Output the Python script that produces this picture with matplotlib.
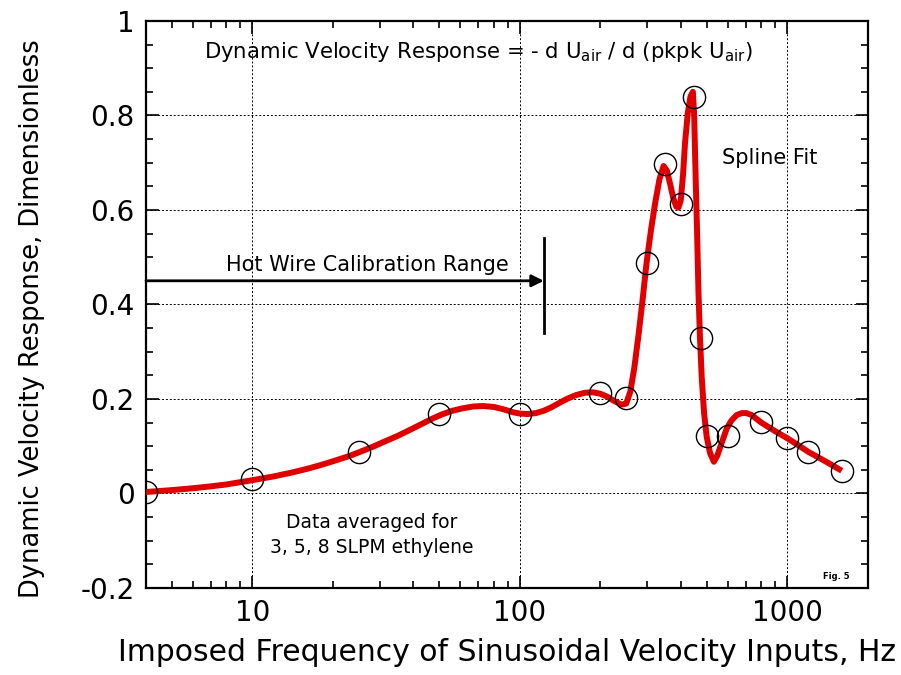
import matplotlib
matplotlib.use('agg')
import matplotlib.pyplot as plt
from matplotlib.ticker import LogLocator, MultipleLocator, NullFormatter

# measured points (Hz, response)
freq = [4, 10, 25, 50, 100, 200, 250, 300, 350, 400, 450, 475, 500, 600, 800, 1000, 1200, 1600]
resp = [0.003, 0.031, 0.087, 0.168, 0.168, 0.213, 0.201, 0.488, 0.697, 0.612, 0.838, 0.329,
        0.122, 0.121, 0.151, 0.117, 0.088, 0.048]

# spline fit curve
fit_freq = [4, 5, 6, 7, 8, 10, 12, 14, 16, 18, 20, 23, 25, 28, 31, 35, 39, 43, 47, 51, 56,
            61, 67, 73, 80, 87, 94, 100, 107, 115, 123, 131, 140, 150, 162, 175, 188, 200,
            212, 225, 240, 250, 259, 268, 278, 288, 298, 310, 321, 333, 345, 355, 365,
            375, 385, 392, 400, 408, 415, 425, 435, 444, 449, 453, 460, 466, 472, 479,
            489, 500, 515, 532, 548, 569, 595, 620, 648, 676, 705, 736, 800, 900, 1000,
            1100, 1200, 1400, 1600]
fit_resp = [0.003, 0.007, 0.011, 0.015, 0.019, 0.028, 0.036, 0.044, 0.052, 0.06, 0.068,
            0.079, 0.087, 0.098, 0.109, 0.122, 0.135, 0.147, 0.158, 0.167, 0.175, 0.18,
            0.184, 0.185, 0.183, 0.178, 0.172, 0.169, 0.168, 0.17, 0.175, 0.182, 0.191,
            0.2, 0.208, 0.213, 0.214, 0.211, 0.205, 0.196, 0.188, 0.19, 0.215, 0.265,
            0.335, 0.41, 0.488, 0.56, 0.615, 0.665, 0.693, 0.683, 0.655, 0.625, 0.607,
            0.605, 0.62, 0.675, 0.742, 0.805, 0.84, 0.85, 0.8, 0.706, 0.56, 0.424, 0.33,
            0.247, 0.17, 0.12, 0.085, 0.067, 0.08, 0.107, 0.138, 0.155, 0.166, 0.17,
            0.17, 0.166, 0.15, 0.132, 0.117, 0.102, 0.088, 0.067, 0.048]

plt.rcParams['font.family'] = ['DejaVu Sans']

fig = plt.figure(figsize=(9.01, 6.75), dpi=100)
ax = fig.add_axes([0.162, 0.129, 0.801, 0.84])

ax.plot(fit_freq, fit_resp, color='#e00000', lw=4.3, solid_capstyle='butt',
        solid_joinstyle='round', zorder=3)
ax.plot(freq, resp, 'o', ms=16, mfc='none', mec='black', mew=1.0, zorder=4)

ax.set_xscale('log')
ax.set_xlim(4, 2000)
ax.set_ylim(-0.2, 1.0)

ax.xaxis.set_minor_locator(LogLocator(base=10, subs=range(2, 10), numticks=20))
ax.xaxis.set_minor_formatter(NullFormatter())
ax.set_xticks([10, 100, 1000])
ax.set_xticklabels(['10', '100', '1000'])
ax.yaxis.set_minor_locator(MultipleLocator(0.05))
ax.set_yticks([-0.2, 0, 0.2, 0.4, 0.6, 0.8, 1.0])
ax.set_yticklabels(['-0.2', '0', '0.2', '0.4', '0.6', '0.8', '1'])

ax.tick_params(which='both', direction='in', top=True, right=True, width=1.2)
ax.tick_params(which='major', length=9, labelsize=20, pad=8)
ax.tick_params(which='minor', length=5)
for s in ax.spines.values():
    s.set_linewidth(1.6)

ax.grid(True, which='major', linestyle=(0, (2, 2)), color='black', lw=0.7)

ax.set_xlabel('Imposed Frequency of Sinusoidal Velocity Inputs, Hz', fontsize=21.5, labelpad=8)
ax.set_ylabel('Dynamic Velocity Response, Dimensionless', fontsize=18.5)
ax.yaxis.set_label_coords(-0.14, 0.475)

ax.text(0.46, 0.945, r'Dynamic Velocity Response = - d U$_{\mathregular{air}}$ / d (pkpk U$_{\mathregular{air}}$)',
        transform=ax.transAxes, ha='center', va='center', fontsize=15.3)
ax.text(860, 0.71, 'Spline Fit', ha='center', va='center', fontsize=15)
ax.text(28, -0.088, 'Data averaged for\n3, 5, 8 SLPM ethylene', ha='center', va='center',
        fontsize=13.5, linespacing=1.4)
ax.text(1525, -0.175, 'Fig. 5', ha='center', va='center', fontsize=6, fontweight='bold')

# calibration range arrow
ax.annotate('', xy=(123, 0.45), xytext=(4, 0.45),
            arrowprops=dict(arrowstyle='-|>', color='black', lw=2, mutation_scale=18,
                            shrinkA=0, shrinkB=0))
ax.plot([123, 123], [0.34, 0.54], color='black', lw=2)
ax.text(27, 0.483, 'Hot Wire Calibration Range', ha='center', va='center', fontsize=15)

fig.savefig('out.png', dpi=100)
